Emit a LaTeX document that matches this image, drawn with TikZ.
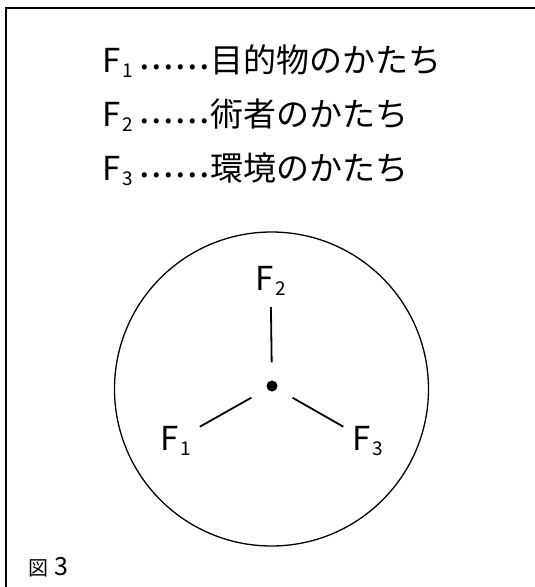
\documentclass[tikz,border=0pt]{standalone}
\usepackage{fontspec}
\setmainfont{Noto Sans CJK JP}
\newcommand{\subn}[1]{\hspace{2pt}\raisebox{-5pt}{\fontsize{19pt}{19pt}\selectfont #1}}
\newcommand{\onedot}{\makebox[12pt]{\raisebox{3pt}{\fontsize{38pt}{38pt}\selectfont .}}}
\newcommand{\leaderdots}{\hspace{6pt}\onedot\onedot\onedot\onedot\onedot\onedot}
\tikzset{
	lbl/.style={font=\fontsize{33pt}{40pt}\selectfont, inner sep=0pt, anchor=base west},
	spoke/.style={line width=1.8pt, shorten <=18pt, shorten >=10pt},
	hubdot/.style={circle, fill, inner sep=0pt, minimum size=11pt}
}
\begin{document}
\begin{tikzpicture}[x=1pt, y=-1pt]
		\useasboundingbox (0,0) rectangle (535,587);

		\draw [line width=2pt] (535,8) -- (6,8) -- (6,587);
		\draw [line width=1.3pt] (271.5,389) circle [radius=157pt];

		\node [lbl] (0) at (102,72) {F\subn{1}\leaderdots 目的物のかたち};
		\node [lbl] (1) at (102,126) {F\subn{2}\leaderdots 術者のかたち};
		\node [lbl] (2) at (102,180) {F\subn{3}\leaderdots 環境のかたち};

		\node [hubdot] (3) at (272,386) {};
		\node [lbl] (4) at (160,450) {F\subn{1}};
		\node [lbl] (5) at (255,290) {F\subn{2}};
		\node [lbl] (6) at (352,450) {F\subn{3}};
		\node [inner sep=0pt, anchor=base west] (7) at (28,575) {\fontsize{20pt}{20pt}\selectfont 図\hspace{6pt}{\fontsize{25pt}{25pt}\selectfont 3}};

		\draw [spoke] (3) to (4);
		\draw [spoke, shorten >=12pt] (3) to (5);
		\draw [spoke] (3) to (6);
\end{tikzpicture}
\end{document}
